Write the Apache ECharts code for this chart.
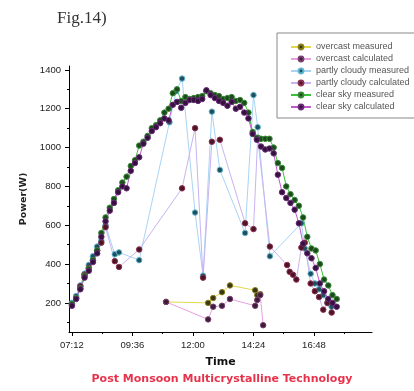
<!DOCTYPE html>
<html><head><meta charset="utf-8">
<script src="https://cdn.jsdelivr.net/npm/echarts@6/dist/echarts.min.js"></script>
<style>html,body{margin:0;padding:0;background:#fff}#c{width:414px;height:391px}</style>
</head><body><div id="c"></div>
<script>
// ---- data ----
const clearTimes = ['07:12','07:22','07:32','07:42','07:52','08:02','08:12','08:22','08:32','08:42',
  '08:52','09:02','09:12','09:22','09:32','09:42','09:52','10:02','10:12','10:22',
  '10:32','10:42','10:52','11:02','11:12','11:22','11:32','11:42','11:52','12:02',
  '12:12','12:22','12:32','12:42','12:52','13:02','13:12','13:22','13:32','13:42',
  '13:52','14:02','14:12','14:22','14:32','14:42','14:52','15:02','15:12','15:22',
  '15:32','15:42','15:52','16:02','16:12','16:22','16:32','16:42','16:52','17:02',
  '17:12','17:22','17:32','17:42'];
const clearMeasured = [195,225,275,340,375,420,470,560,640,690,
  735,780,820,850,905,935,1010,1030,1060,1100,
  1115,1140,1180,1200,1280,1300,1240,1260,1250,1255,
  1260,1265,1290,1280,1270,1265,1250,1255,1260,1240,
  1245,1230,1180,1080,1050,1045,1045,1045,1000,920,
  895,800,760,730,700,640,540,480,470,400,
  320,290,240,220];
const clearCalculated = [185,220,270,330,365,410,455,540,620,675,
  715,770,800,790,880,920,950,1020,1050,1085,
  1105,1125,1150,1140,1220,1235,1205,1230,1245,1245,
  1240,1250,1295,1270,1255,1240,1230,1215,1235,1200,
  1210,1180,1150,1070,1040,1005,990,995,970,860,
  770,740,715,680,610,505,455,430,380,300,
  260,220,200,180];

const cloudyTimes = ['07:12','07:22','07:32','07:42','07:52','08:02','08:12','08:22','08:32','08:54',
  '09:04','09:52','11:04','11:20','11:34','12:05','12:24','12:45','13:04','14:04',
  '14:24','14:34','15:03','15:44','15:50','15:58','16:06','16:18','16:26','16:40',
  '16:50','17:00','17:10','17:20','17:30'];
const cloudyMeasured = [200,235,290,350,395,440,490,520,600,450,
  460,420,1130,1290,1355,665,340,1185,885,560,
  1270,1105,440,null,null,null,null,610,480,350,
  300,270,240,200,180];
const cloudyCalculated = [190,225,285,345,380,420,470,510,590,415,
  385,475,null,null,790,1100,330,1030,1040,610,
  580,1050,490,395,360,345,320,485,510,300,
  260,230,165,200,150];

const overcastTimes = ['10:56','12:36','12:48','13:09','13:28','14:28','14:33','14:40','14:47'];
const overcastMeasured = [205,200,225,255,290,265,240,245,null];
const overcastCalculated = [205,115,180,185,220,185,215,240,85];

const yMajorTicks = [200,400,600,800,1000,1200,1400];
const yMinorTicks = [100,300,500,700,900,1100,1300];
const xMajorTicks = ['07:12','09:36','12:00','14:24','16:48'];
const xMinorTicks = ['08:24','10:48','13:12','15:36','18:00'];

// ---- helpers ----
function toMin(s){ const p = s.split(':'); return (+p[0])*60 + (+p[1]); }
function fmt(v){ const h = Math.floor(v/60), m = Math.round(v - h*60);
  return String(h).padStart(2,'0') + ':' + String(m).padStart(2,'0'); }
function pairs(times, vals){ return times.map((t,i)=>[toMin(t), vals[i]]).filter(d=>d[1]!=null); }

function mk(name, times, vals, lineColor, fill, border){
  return { name, type:'line', data: pairs(times, vals), symbol:'circle', symbolSize:5.5,
    lineStyle:{ color:lineColor, width:1 },
    itemStyle:{ color:fill, borderColor:border, borderWidth:1 },
    emphasis:{ disabled:true }, animation:false };
}

const chart = echarts.init(document.getElementById('c'), null, {renderer:'canvas'});
const XMIN = 425, XMAX = 1146, YMIN = 50, YMAX = 1420;
chart.setOption({
  backgroundColor:'#fff',
  animation:false,
  textStyle:{ fontFamily:'Liberation Sans, Arial, sans-serif' },
  grid:{ left:69, right:42, top:66, bottom:59 },
  legend:{
    orient:'vertical', left:277, top:33,
    padding:[9,6,6,13], itemGap:2, itemWidth:20, itemHeight:6,
    borderColor:'#888', borderWidth:1,
    textStyle:{ fontSize:9, lineHeight:10, color:'#555' },
    data:['overcast measured','overcast calculated','partly cloudy measured','partly cloudy calculated','clear sky measured','clear sky calculated']
  },
  xAxis:[{
    type:'value', min:XMIN, max:XMAX,
    axisLine:{ show:true, lineStyle:{ color:'#000', width:1 } },
    axisTick:{ show:true, customValues: xMajorTicks.map(toMin), length:4, lineStyle:{ color:'#000' } },
    axisLabel:{ customValues: xMajorTicks.map(toMin), formatter: v=>fmt(v), fontSize:9.5, color:'#222', margin:8 },
    splitLine:{ show:false },
    name:'Time', nameLocation:'middle', nameGap:25,
    nameTextStyle:{ fontWeight:'bold', fontSize:11, color:'#111', fontFamily:'DejaVu Sans' }
  },{
    type:'value', min:XMIN, max:XMAX, position:'bottom',
    axisLine:{ show:false },
    axisTick:{ show:true, customValues: xMinorTicks.map(toMin), length:2, lineStyle:{ color:'#000' } },
    axisLabel:{ show:false }, splitLine:{ show:false }
  }],
  yAxis:[{
    type:'value', min:YMIN, max:YMAX,
    axisLine:{ show:true, lineStyle:{ color:'#000', width:1 } },
    axisTick:{ show:true, customValues: yMajorTicks, length:4, lineStyle:{ color:'#000' } },
    axisLabel:{ customValues: yMajorTicks, formatter: v=>String(v), fontSize:9.5, color:'#222', margin:8 },
    splitLine:{ show:false },
    name:'Power(W)', nameLocation:'middle', nameGap:31, nameRotate:90,
    nameTextStyle:{ fontWeight:'bold', fontSize:9.5, color:'#222', fontFamily:'DejaVu Sans' }
  },{
    type:'value', min:YMIN, max:YMAX, position:'left',
    axisLine:{ show:false },
    axisTick:{ show:true, customValues: yMinorTicks, length:2, lineStyle:{ color:'#000' } },
    axisLabel:{ show:false }, splitLine:{ show:false }
  }],
  graphic:[
    { type:'text', left:57, top:10, style:{ text:'Fig.14)', font:'17px "Liberation Serif", serif', fill:'#333' } },
    { type:'text', x:222, y:379, style:{ text:'Post Monsoon Multicrystalline Technology', font:'bold 11px "DejaVu Sans", sans-serif', fill:'#e8324c', textAlign:'center', textVerticalAlign:'middle' } }
  ],
  series:[
    mk('overcast measured', overcastTimes, overcastMeasured, '#e2d84a', '#3b3612', '#8a8020'),
    mk('overcast calculated', overcastTimes, overcastCalculated, '#e8a0e0', '#3e1d3a', '#7a4070'),
    mk('partly cloudy measured', cloudyTimes, cloudyMeasured, '#a9d4f5', '#1f4f5c', '#5fb6cf'),
    mk('partly cloudy calculated', cloudyTimes, cloudyCalculated, '#c8b4f0', '#4e1426', '#8a3050'),
    mk('clear sky measured', clearTimes, clearMeasured, '#39c23a', '#1d4a1d', '#3a8a3a'),
    mk('clear sky calculated', clearTimes, clearCalculated, '#c45ad0', '#35123e', '#6a2a78')
  ]
});
</script></body></html>
